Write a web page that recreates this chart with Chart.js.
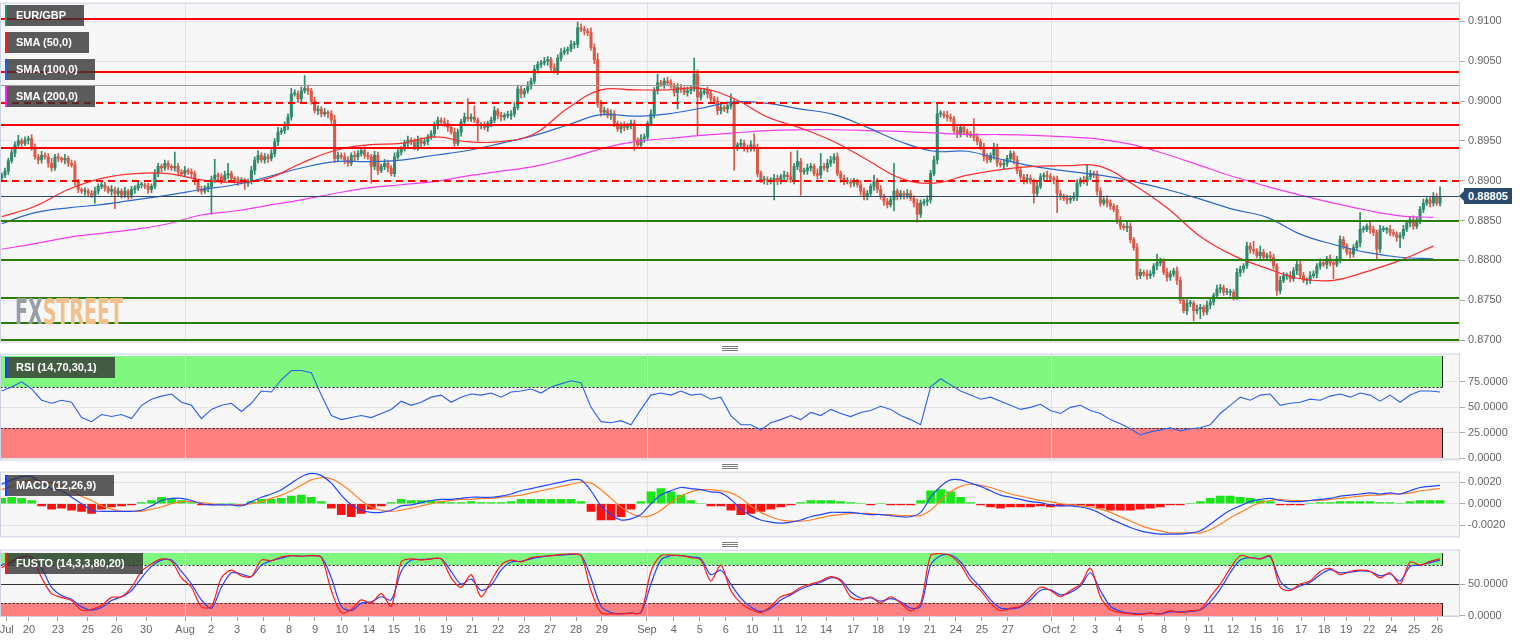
<!DOCTYPE html>
<html><head><meta charset="utf-8">
<script src="https://cdn.jsdelivr.net/npm/chart.js@4.4.1/dist/chart.umd.min.js"></script>
<style>
html,body{margin:0;padding:0;background:#fff;width:1531px;height:643px;overflow:hidden;position:relative;font-family:"Liberation Sans",Arial,sans-serif;}
canvas{position:absolute;}
.lbl{position:absolute;left:5px;height:21px;background:rgba(48,48,48,0.78);color:#fff;font:bold 11px "Liberation Sans",Arial,sans-serif;line-height:21px;padding-left:11px;box-sizing:border-box;white-space:nowrap;z-index:5;}
.lbl i{position:absolute;left:0;top:0;width:2px;height:100%;}
.hdl{position:absolute;left:722px;width:16px;height:1px;background:#7a7a7a;box-shadow:0 2px 0 #7a7a7a,0 4px 0 #7a7a7a;z-index:5;}
#ptag{position:absolute;left:1464px;width:48px;height:16px;background:#2b4a6c;color:#fff;font:bold 11px "Liberation Sans",Arial,sans-serif;line-height:16px;text-align:center;z-index:5;}
#ptag:before{content:'';position:absolute;left:-5px;top:3px;border-top:5px solid transparent;border-bottom:5px solid transparent;border-right:5px solid #2b4a6c;}
#wm{position:absolute;left:15px;top:294px;white-space:nowrap;font:bold 36px "Liberation Sans Narrow","DejaVu Sans Condensed",sans-serif;line-height:36px;transform-origin:0 0;z-index:4;}
</style></head>
<body>
<div id="wm"><span style="color:#979ca6">FX</span><span style="color:#f2c08c">STREET</span></div>
<div class="lbl" style="top:5px;width:79px"><i style="background:#2e8b6e"></i>EUR/GBP</div>
<div class="lbl" style="top:32px;width:84px"><i style="background:#ff1a1a"></i>SMA (50,0)</div>
<div class="lbl" style="top:59px;width:90px"><i style="background:#1f5fd6"></i>SMA (100,0)</div>
<div class="lbl" style="top:86px;width:90px"><i style="background:#ff22ff"></i>SMA (200,0)</div>
<div class="lbl" style="top:357px;width:110px"><i style="background:#1a3cff"></i>RSI (14,70,30,1)</div>
<div class="lbl" style="top:475px;width:109px"><i style="background:#1a3cff"></i>MACD (12,26,9)</div>
<div class="lbl" style="top:553px;width:138px"><i style="background:#ff1a1a"></i>FUSTO (14,3,3,80,20)</div>
<div class="hdl" style="top:346px"></div>
<div class="hdl" style="top:464px"></div>
<div class="hdl" style="top:542px"></div>
<div id="ptag"></div>
<script>
// ---------------- DATA ----------------
const firstOpen = 0.8903;
const closes = [
0.8907,0.8912,0.8925,0.8935,0.8945,0.8950,0.8947,0.8951,0.8953,0.8942,
0.8930,0.8926,0.8932,0.8930,0.8922,0.8916,0.8930,0.8928,0.8926,0.8928,
0.8922,0.8920,0.8899,0.8889,0.8887,0.8887,0.8884,0.8882,0.8887,0.8893,
0.8895,0.8891,0.8887,0.8889,0.8884,0.8887,0.8882,0.8887,0.8882,0.8889,
0.8891,0.8895,0.8895,0.8893,0.8889,0.8893,0.8909,0.8918,0.8916,0.8922,
0.8918,0.8916,0.8918,0.8911,0.8909,0.8913,0.8911,0.8909,0.8899,0.8889,
0.8887,0.8891,0.8893,0.8901,0.8907,0.8905,0.8901,0.8907,0.8909,0.8903,
0.8901,0.8899,0.8901,0.8897,0.8899,0.8913,0.8926,0.8932,0.8926,0.8930,
0.8928,0.8934,0.8949,0.8961,0.8963,0.8969,0.8980,0.9009,0.9009,0.9003,
0.9013,0.9016,0.9013,0.9000,0.8988,0.8990,0.8984,0.8986,0.8984,0.8976,
0.8928,0.8932,0.8930,0.8926,0.8922,0.8932,0.8930,0.8934,0.8938,0.8932,
0.8930,0.8918,0.8932,0.8913,0.8918,0.8922,0.8916,0.8909,0.8930,0.8936,
0.8940,0.8947,0.8951,0.8949,0.8942,0.8951,0.8947,0.8949,0.8955,0.8959,
0.8969,0.8976,0.8974,0.8972,0.8967,0.8961,0.8947,0.8961,0.8974,0.8980,
0.8978,0.8980,0.8976,0.8969,0.8969,0.8967,0.8972,0.8976,0.8988,0.8982,
0.8980,0.8982,0.8982,0.8984,0.8992,0.9015,0.9009,0.9013,0.9019,0.9025,
0.9040,0.9046,0.9048,0.9050,0.9052,0.9042,0.9038,0.9054,0.9061,0.9063,
0.9065,0.9071,0.9071,0.9092,0.9090,0.9088,0.9086,0.9067,0.9052,0.8996,
0.8986,0.8988,0.8982,0.8984,0.8972,0.8965,0.8969,0.8967,0.8969,0.8972,
0.8951,0.8945,0.8953,0.8955,0.8972,0.8984,0.9013,0.9023,0.9021,0.9025,
0.9023,0.9019,0.9011,0.9017,0.9015,0.9011,0.9013,0.9015,0.9034,0.9005,
0.9011,0.9013,0.9009,0.9003,0.9000,0.8988,0.8992,0.8990,0.8994,0.8998,
0.8942,0.8945,0.8947,0.8942,0.8940,0.8945,0.8942,0.8909,0.8901,0.8901,
0.8899,0.8901,0.8903,0.8899,0.8905,0.8907,0.8905,0.8901,0.8918,0.8924,
0.8911,0.8913,0.8916,0.8918,0.8909,0.8907,0.8918,0.8916,0.8922,0.8926,
0.8930,0.8909,0.8903,0.8899,0.8899,0.8897,0.8899,0.8895,0.8887,0.8880,
0.8884,0.8893,0.8899,0.8889,0.8880,0.8874,0.8870,0.8876,0.8887,0.8880,
0.8884,0.8882,0.8884,0.8878,0.8872,0.8858,0.8872,0.8874,0.8876,0.8909,
0.8926,0.8984,0.8984,0.8982,0.8980,0.8978,0.8963,0.8959,0.8967,0.8961,
0.8959,0.8957,0.8955,0.8949,0.8942,0.8930,0.8926,0.8932,0.8942,0.8922,
0.8920,0.8922,0.8928,0.8934,0.8926,0.8913,0.8905,0.8901,0.8903,0.8899,
0.8884,0.8893,0.8905,0.8907,0.8905,0.8903,0.8901,0.8884,0.8880,0.8878,
0.8876,0.8878,0.8880,0.8897,0.8901,0.8899,0.8905,0.8909,0.8907,0.8887,
0.8872,0.8876,0.8872,0.8868,0.8864,0.8851,0.8843,0.8841,0.8843,0.8826,
0.8816,0.8781,0.8785,0.8783,0.8781,0.8783,0.8793,0.8797,0.8799,0.8785,
0.8779,0.8783,0.8787,0.8775,0.8750,0.8737,0.8746,0.8746,0.8737,0.8739,
0.8741,0.8735,0.8744,0.8748,0.8756,0.8764,0.8766,0.8760,0.8760,0.8760,
0.8754,0.8785,0.8789,0.8793,0.8818,0.8814,0.8812,0.8806,0.8810,0.8804,
0.8806,0.8804,0.8793,0.8762,0.8775,0.8781,0.8781,0.8777,0.8787,0.8795,
0.8781,0.8775,0.8775,0.8781,0.8783,0.8793,0.8797,0.8795,0.8802,0.8797,
0.8795,0.8802,0.8826,0.8818,0.8810,0.8808,0.8816,0.8822,0.8839,0.8839,
0.8843,0.8839,0.8835,0.8814,0.8839,0.8839,0.8839,0.8835,0.8833,0.8829,
0.8831,0.8839,0.8847,0.8851,0.8843,0.8851,0.8864,0.8872,0.8876,0.8872,
0.8880,0.8872,0.88805];
// wick lengths above / below the body, in pips (0.0001)
const wickUp = [
3,4,3,5,4,7,3,4,3,5, 4,3,5,3,4,6,3,4,2,5, 3,4,5,3,2,4,3,4,5,3, 4,3,2,5,3,4,3,5,2,4,
3,4,3,2,4,3,5,4,3,4, 3,2,18,4,3,5,2,4,3,2, 4,3,4,5,20,3,4,5,13,3, 2,4,3,2,3,5,4,6,3,4,
3,5,4,6,3,5,4,7,5,4, 5,16,4,3,5,4,3,5,2,4, 6,4,3,5,4,3,5,4,3,5, 4,3,5,4,3,5,4,3,5,4,
3,4,5,3,4,5,3,4,3,4, 5,4,3,5,4,3,5,4,3,5, 23,4,14,3,4,5,3,4,5,3, 4,3,5,4,6,5,4,3,5,4,
5,4,3,5,4,3,5,4,5,4, 3,5,4,7,5,4,3,6,5,8, 5,4,3,5,4,3,4,5,3,4, 4,3,5,4,3,5,4,11,3,4,
5,4,3,5,4,3,5,4,20,5, 4,3,5,4,3,5,4,3,5,11, 4,3,5,4,3,5,14,4,3,5, 4,3,5,4,3,5,4,31,4,14,
4,3,5,4,3,6,16,4,5,5, 4,5,3,4,5,3,4,3,5,4, 4,3,8,4,5,3,4,4,35,3, 4,3,5,4,3,5,4,3,5,4,
5,12,4,3,5,4,3,5,4,3, 4,3,21,4,3,5,4,3,5,4, 3,5,4,4,3,5,4,3,5,4, 3,5,4,3,5,4,3,5,4,3,
4,3,5,4,3,5,15,4,3,5, 4,3,5,4,3,5,4,3,5,4, 3,5,4,3,5,4,3,11,4,3, 5,4,3,5,4,3,5,4,3,5,
4,3,5,4,3,5,4,3,5,4, 3,5,4,3,5,4,10,3,8,4, 3,5,4,3,5,4,3,5,4,4, 5,4,3,5,4,3,5,4,3,5,
4,3,5,4,3,5,4,3,21,4, 3,5,4,3,5,4,3,5,4,3, 4,5,3,4,5,3,4,5,3,4, 5,4,12];
const wickDn = [
4,3,4,3,5,3,4,3,5,4, 3,5,4,3,5,4,3,4,3,5, 4,3,5,4,3,5,4,3,10,4, 3,4,3,5,19,3,4,3,5,4,
5,3,4,3,5,4,3,4,5,3, 4,3,4,5,3,4,3,5,4,3, 4,3,5,35,3,4,5,3,4,3, 4,5,3,8,4,3,5,4,3,4,
5,3,4,5,3,4,5,4,3,5, 4,3,5,4,3,5,4,3,5,4, 5,4,3,5,4,3,5,4,3,4, 3,21,4,5,3,4,5,3,4,3,
4,3,5,4,3,4,5,3,4,3, 5,4,3,4,5,3,4,3,5,4, 3,4,3,19,4,3,5,4,3,4, 5,4,3,5,4,3,5,4,3,4,
3,5,4,3,5,4,3,5,4,3, 4,3,5,4,3,5,4,3,5,4, 5,4,3,5,4,3,5,4,3,4, 13,4,3,5,4,3,5,4,3,5,
4,3,5,21,4,3,5,4,3,48, 4,3,5,4,3,5,4,3,5,4, 29,4,3,5,4,3,5,4,3,5, 4,3,25,4,3,5,4,3,5,4,
29,3,5,4,3,5,4,3,5,4, 4,3,5,4,3,5,4,3,5,4, 4,3,5,4,3,5,4,3,14,4, 3,5,4,3,5,10,4,3,5,4,
3,5,4,3,5,4,3,5,4,3, 4,3,5,4,3,5,4,3,5,4, 3,5,4,3,5,4,3,5,4,3, 12,4,3,5,4,3,5,24,4,3,
5,4,3,5,4,3,5,4,3,5, 4,3,5,4,3,5,4,3,5,4, 3,5,4,3,5,4,3,5,4,3, 5,4,3,5,4,3,5,4,13,4,
12,4,3,5,4,3,5,4,3,5, 4,3,5,4,3,5,4,3,5,4, 3,5,4,6,4,3,5,4,3,5, 4,3,5,4,3,5,4,3,5,4,
18,3,5,4,3,5,4,3,5,4, 3,5,4,12,4,3,5,4,3,5, 13,4,3,5,4,3,5,4,3,5, 4,3,4];

// moving averages, one reading every SMA_STEP candles
const SMA_STEP = 10;
const sma50 = [
0.8855,0.8868,0.8889,0.8903,0.8909,0.8909,0.8901,0.8898,0.8903,0.8922,
0.8938,0.8945,0.8947,0.8955,0.8949,0.8949,0.8959,0.8991,0.9014,0.9014,
0.9014,0.9016,0.9003,0.8980,0.8966,0.8949,0.8926,0.8903,0.8897,0.8907,
0.8914,0.8918,0.8919,0.8918,0.8895,0.8866,0.8830,0.8806,0.8790,0.8777,
0.8775,0.8786,0.8800,0.8818];
const sma100 = [
0.8846,0.8860,0.8866,0.8870,0.8876,0.8882,0.8889,0.8895,0.8905,0.8916,
0.8924,0.8924,0.8926,0.8932,0.8938,0.8947,0.8957,0.8970,0.8983,0.8981,
0.8984,0.8991,0.8999,0.8997,0.8990,0.8983,0.8967,0.8949,0.8937,0.8937,
0.8927,0.8918,0.8912,0.8907,0.8899,0.8889,0.8877,0.8864,0.8854,0.8833,
0.8820,0.8810,0.8804,0.8802];
const sma200 = [
0.8814,0.8821,0.8829,0.8834,0.8839,0.8846,0.8857,0.8862,0.8869,0.8876,
0.8884,0.8891,0.8895,0.8899,0.8906,0.8912,0.8918,0.8928,0.8940,0.8949,
0.8953,0.8957,0.8960,0.8963,0.8964,0.8964,0.8963,0.8962,0.8960,0.8958,
0.8958,0.8957,0.8955,0.8952,0.8945,0.8933,0.8919,0.8905,0.8893,0.8882,
0.8872,0.8863,0.8856,0.8854];

// indicators, one reading every IND_STEP candles
const IND_STEP = 3;
const rsi = [
66,70,75,68,57,54,57,55,40,36, 43,41,43,39,52,58,61,63,55,52,
39,48,52,54,46,54,66,65,77,86, 86,84,62,42,38,40,42,40,44,48,
56,52,55,60,62,55,60,63,62,64, 60,65,66,68,64,70,73,76,74,50,
36,35,37,33,48,62,64,62,66,62, 63,58,60,42,33,33,28,35,38,42,
38,45,42,48,44,41,45,47,51,48, 42,38,33,70,78,72,66,62,58,60,
56,52,48,50,53,47,44,50,52,47, 44,38,34,29,23,26,28,30,27,29,
30,33,44,52,60,57,62,63,52,54, 55,58,57,61,63,60,64,62,56,62,
55,62,66,66,65];
const macd = [
.0018,.0022,.0025,.0025,.0019,.0014,.0012,.0006,.0000,-.0006,
-.0007,-.0007,-.0007,-.0007,-.0006,-.0002,.0003,.0005,.0005,.0003,
.0000,-.0001,-.0001,-.0001,-.0002,.0002,.0006,.0009,.0013,.0019,
.0025,.0028,.0026,.0019,.0008,-.0001,-.0006,-.0008,-.0008,-.0006,
-.0002,-.0001,.0001,.0003,.0004,.0004,.0005,.0006,.0006,.0006,
.0007,.0009,.0012,.0014,.0016,.0018,.0020,.0022,.0022,.0012,
-.0002,-.0010,-.0015,-.0014,-.0010,.0000,.0008,.0012,.0015,.0014,
.0013,.0011,.0010,.0004,-.0005,-.0011,-.0015,-.0017,-.0018,-.0017,
-.0015,-.0012,-.0010,-.0008,-.0008,-.0008,-.0009,-.0010,-.0010,-.0011,
-.0012,-.0012,-.0008,.0006,.0016,.0022,.0022,.0019,.0016,.0012,
.0008,.0006,.0004,.0002,.0001,-.0001,-.0002,-.0002,-.0003,-.0005,
-.0009,-.0014,-.0018,-.0022,-.0025,-.0027,-.0028,-.0028,-.0028,-.0027,
-.0025,-.0019,-.0012,-.0006,-.0002,.0002,.0004,.0005,.0003,.0002,
.0002,.0003,.0004,.0005,.0007,.0008,.0009,.0010,.0009,.0010,
.0009,.0012,.0015,.0016,.0017];
const macdSignal = [
.0013,.0016,.0020,.0022,.0021,.0019,.0016,.0012,.0007,.0003,
-.0002,-.0005,-.0007,-.0007,-.0007,-.0005,-.0003,.0000,.0002,.0002,
.0001,.0000,-.0001,-.0001,-.0001,.0000,.0002,.0005,.0008,.0012,
.0017,.0022,.0024,.0023,.0018,.0011,.0003,-.0003,-.0006,-.0007,
-.0006,-.0004,-.0002,.0000,.0002,.0003,.0004,.0004,.0005,.0005,
.0006,.0007,.0008,.0010,.0012,.0014,.0016,.0018,.0020,.0019,
.0013,.0005,-.0003,-.0009,-.0012,-.0011,-.0006,.0001,.0007,.0011,
.0013,.0013,.0012,.0010,.0005,-.0002,-.0008,-.0012,-.0015,-.0016,
-.0016,-.0015,-.0013,-.0011,-.0010,-.0009,-.0009,-.0009,-.0010,-.0010,
-.0011,-.0011,-.0011,-.0006,.0003,.0011,.0016,.0018,.0017,.0015,
.0012,.0009,.0007,.0005,.0003,.0002,.0000,-.0001,-.0002,-.0003,
-.0005,-.0008,-.0012,-.0016,-.0020,-.0023,-.0025,-.0027,-.0027,-.0027,
-.0027,-.0024,-.0019,-.0013,-.0008,-.0003,.0001,.0003,.0004,.0003,
.0003,.0003,.0003,.0004,.0005,.0006,.0007,.0008,.0008,.0009,
.0009,.0010,.0012,.0013,.0014];
const macdHist = [
.0005,.0006,.0005,.0003,-.0002,-.0005,-.0004,-.0006,-.0007,-.0009,
-.0005,-.0003,-.0002,-.0001,.0001,.0003,.0006,.0005,.0003,.0001,
-.0001,-.0001,.0000,.0000,-.0001,.0002,.0004,.0004,.0005,.0007,
.0008,.0006,.0002,-.0004,-.0010,-.0012,-.0009,-.0005,-.0002,.0001,
.0004,.0003,.0003,.0003,.0002,.0001,.0001,.0002,.0001,.0001,
.0001,.0002,.0004,.0004,.0004,.0004,.0004,.0004,.0002,-.0007,
-.0015,-.0015,-.0012,-.0005,.0002,.0011,.0014,.0011,.0008,.0003,
.0000,-.0002,-.0002,-.0006,-.0010,-.0009,-.0007,-.0005,-.0003,-.0001,
.0001,.0003,.0003,.0003,.0002,.0001,.0000,-.0001,.0000,-.0001,
-.0001,-.0001,.0003,.0012,.0013,.0011,.0006,.0001,-.0001,-.0003,
-.0004,-.0003,-.0003,-.0003,-.0002,-.0003,-.0002,-.0001,-.0001,-.0002,
-.0004,-.0006,-.0006,-.0006,-.0005,-.0004,-.0003,-.0001,-.0001,.0000,
.0002,.0005,.0007,.0007,.0006,.0005,.0003,.0002,-.0001,-.0001,
-.0001,.0000,.0001,.0001,.0002,.0002,.0002,.0002,.0001,.0001,
.0000,.0002,.0003,.0003,.0003];
const fustoK = [
76,86,94,92,60,35,29,24,9,10, 16,29,30,45,70,82,90,86,60,45,
14,15,60,72,63,62,88,87,93,95, 94,95,92,40,5,10,25,20,35,15,
85,90,88,90,90,60,45,65,30,55, 80,88,85,92,94,95,97,98,95,40,
5,3,3,4,5,70,95,96,95,92, 88,55,80,40,20,10,5,15,30,35,
45,50,55,62,55,30,25,30,20,30, 20,8,20,95,98,95,80,55,40,20,
8,12,15,30,45,40,30,40,50,75, 30,10,5,3,2,4,3,8,5,8,
10,30,50,75,95,92,90,95,45,40, 50,55,70,75,65,70,72,70,60,68,
50,85,80,86,90];
const fustoD = [
81,84,92,93,75,45,32,26,14,9, 13,24,30,40,60,78,88,88,70,50,
25,12,45,68,66,62,80,87,91,95, 94,95,93,60,15,8,20,22,30,25,
70,88,89,90,90,70,50,58,40,48, 72,85,86,90,93,95,96,97,96,60,
15,5,3,4,5,50,88,95,95,93, 90,65,72,50,28,14,7,12,25,33,
42,48,53,60,57,38,28,28,23,27, 22,12,15,80,95,96,85,62,45,25,
12,11,14,25,40,41,33,37,47,68, 40,15,7,4,3,4,3,6,6,7,
9,22,42,68,88,92,90,93,55,42, 47,53,65,73,68,69,71,70,63,66,
55,78,80,84,88];

// x-axis tick labels and the candle they sit under
const xTickLabels = ['Jul','20','23','25','26','30','Aug','2','3','6','8','9','10','14','15','16','19','21','22','23','27','28','29',
 'Sep','4','5','6','10','11','12','14','17','18','19','21','24','25','27',
 'Oct','2','3','4','5','8','9','11','12','15','16','17','18','19','22','24','25','26'];
const xTickIdx = [1.5,8.2,16.9,25.9,34.6,43.4,55.1,62.9,70.7,78.5,86.3,94.1,102.2,110.3,117.8,125.6,133.5,141.3,149.1,156.9,164.7,172.5,180.3,
 193.8,201.9,209.7,217.5,225.4,233.2,240.1,247.6,255.7,263.2,271.0,278.8,286.6,294.4,302.2,
 315.2,321.8,328.4,335.6,342.2,349.1,356.0,362.6,369.8,376.7,383.3,390.3,397.2,403.8,410.7,417.3,424.2,431.1];
const monthNames = ['Aug','Sep','Oct'];

const priceTicks = [0.8700,0.8750,0.8800,0.8850,0.8900,0.8950,0.9000,0.9050,0.9100];
const rsiTicks = [0,25,50,75];
const macdTicks = [-0.002,0,0.002];
const fustoTicks = [0,50];

const levelsRedSolid = [0.9103,0.9036,0.8970,0.8941];
const levelsRedDashed = [0.8998,0.8900];
const levelsGray = [0.9020];
const levelsGreen = [0.8850,0.8800,0.8753,0.8722,0.8700];

// ---------------- BUILD ----------------
const FONT = '"Liberation Sans", Arial, sans-serif';
const PIP = 0.0001;
const BULL = '#2f8a6c', BEAR = '#d85a49';
const N = closes.length;
const X_MAX = 438;
const opens = closes.map((c,i)=> i ? closes[i-1] : firstOpen);
const highs = closes.map((c,i)=> Math.max(opens[i],c) + wickUp[i]*PIP);
const lows  = closes.map((c,i)=> Math.min(opens[i],c) - wickDn[i]*PIP);
const cColor = closes.map((c,i)=> c >= opens[i] ? BULL : BEAR);
const monthIdx = xTickIdx.filter((v,i)=> monthNames.includes(xTickLabels[i]));

function xAxis(show){
  return { type:'linear', min:-0.5, max:X_MAX, display:show, offset:false,
    afterBuildTicks(s){ s.ticks = xTickIdx.map(v=>({value:v})); },
    afterFit(s){ if (show) s.height = 26; },
    grid:{ display:true, offset:false, drawOnChartArea:false, drawTicks:true, tickLength:4, tickColor:'#a0a0a0', color:'#a0a0a0' },
    border:{ display:false },
    ticks:{ autoSkip:false, maxRotation:0, minRotation:0, padding:2, color:'#666', font:{family:FONT,size:11},
      callback:(v,i)=> xTickLabels[i] }
  };
}
function yAxis(min,max,ticks){
  return { type:'linear', position:'right', min, max,
    afterBuildTicks(s){ s.ticks = ticks.map(v=>({value:v})); },
    afterFit(s){ s.width = 71; },
    grid:{ color:'#e4e4e4', drawTicks:true, tickLength:5, tickColor:'#a8a8a8' },
    border:{ display:false },
    ticks:{ autoSkip:false, padding:3, color:'#666', font:{family:FONT,size:11}, callback:v=> Number(v).toFixed(4) }
  };
}
function hline(ctx, a, py, color, w, dash){
  ctx.save(); ctx.beginPath(); ctx.strokeStyle=color; ctx.lineWidth=w; ctx.setLineDash(dash||[]);
  const yy = w%2 ? Math.round(py)+0.5 : Math.round(py);
  ctx.moveTo(a.left, yy); ctx.lineTo(a.right, yy); ctx.stroke(); ctx.restore();
}
function panelPlugin(cfg){
  return {
    id:'panel_'+cfg.name,
    beforeDraw(chart){
      const {ctx, chartArea:a} = chart;
      ctx.save(); ctx.fillStyle='#f7f7f7'; ctx.fillRect(a.left,a.top,a.right-a.left,a.bottom-a.top); ctx.restore();
    },
    beforeDatasetsDraw(chart){
      const {ctx, chartArea:a, scales:{x,y}} = chart;
      ctx.save();
      (cfg.bands||[]).forEach(b=>{
        const x0=a.left+0.5, x1=Math.round(x.getPixelForValue(N-0.5))+0.5;
        const yT=Math.round(y.getPixelForValue(b.to)), yB=Math.round(y.getPixelForValue(b.from));
        ctx.fillStyle=b.color; ctx.fillRect(x0,yT,x1-x0,yB-yT);
        ctx.strokeStyle='#222'; ctx.lineWidth=1; ctx.setLineDash([]);
        ctx.beginPath(); ctx.moveTo(x0,yT); ctx.lineTo(x0,yB); ctx.moveTo(x1,yT); ctx.lineTo(x1,yB); ctx.stroke();
        const ye=Math.round(y.getPixelForValue(b.edge))+0.5;
        ctx.setLineDash([2,2]); ctx.beginPath(); ctx.moveTo(x0,ye); ctx.lineTo(x1,ye); ctx.stroke();
      });
      ctx.setLineDash([]); ctx.strokeStyle='#e2e2e2'; ctx.lineWidth=1;
      monthIdx.forEach(v=>{ const px=Math.round(x.getPixelForValue(v))+0.5; ctx.beginPath(); ctx.moveTo(px,a.top); ctx.lineTo(px,a.bottom); ctx.stroke(); });
      (cfg.midLines||[]).forEach(v=> hline(ctx,a,y.getPixelForValue(v),'#333',1));
      ctx.restore();
    },
    afterDatasetsDraw(chart){
      const {ctx, chartArea:a, scales:{y}} = chart;
      if (cfg.levels){
        levelsGray.forEach(v=> hline(ctx,a,y.getPixelForValue(v),'#9a9a9a',1));
        levelsRedSolid.forEach(v=> hline(ctx,a,y.getPixelForValue(v),'#ff0000',2));
        levelsRedDashed.forEach(v=> hline(ctx,a,y.getPixelForValue(v),'#ff0000',2,[7,5]));
        levelsGreen.forEach(v=> hline(ctx,a,y.getPixelForValue(v),'#2a7d06',2));
        hline(ctx,a,y.getPixelForValue(closes[N-1]),'#2b4a6c',1);
      }
    },
    afterDraw(chart){
      const {ctx, chartArea:a, scales:{y}} = chart;
      ctx.save(); ctx.strokeStyle='#cbd3e4'; ctx.lineWidth=1;
      ctx.strokeRect(a.left+0.5,a.top+0.5,a.right-a.left-1,a.bottom-a.top-1); ctx.restore();
      if (cfg.levels){
        const tag=document.getElementById('ptag');
        tag.textContent = closes[N-1].toFixed(5);
        tag.style.top = (y.getPixelForValue(closes[N-1]) + cfg.top - 8) + 'px';
      }
    }
  };
}
function panel(cfg){
  const cv=document.createElement('canvas');
  cv.width=1541; cv.height=cfg.h;
  cv.style.left='-10px'; cv.style.top=cfg.top+'px'; cv.style.width='1541px'; cv.style.height=cfg.h+'px';
  document.body.appendChild(cv);
  return new Chart(cv.getContext('2d'), {
    type:'bar',
    data:{ datasets: cfg.datasets },
    options:{
      responsive:false, animation:false, devicePixelRatio:1, events:[],
      layout:{ padding:{ left:10, right:0, top:8, bottom:cfg.padBottom } },
      plugins:{ legend:{display:false}, tooltip:{enabled:false} },
      scales:{ x: xAxis(!!cfg.showX), y: yAxis(cfg.yMin, cfg.yMax, cfg.yTicks) }
    },
    plugins:[ panelPlugin(cfg) ]
  });
}
const lineDs = (arr, step, color, w, order, tension) => ({
  type:'line', data: arr.map((v,k)=>({x:k*step, y:v})), borderColor:color, borderWidth:w,
  pointRadius:0, tension:tension, order:order, fill:false
});

// main price panel
panel({ name:'main', top:-7, h:359, padBottom:8, yMin:0.86971, yMax:0.91236, yTicks:priceTicks, levels:true,
  datasets:[
    lineDs(sma50, SMA_STEP, '#ff2b2b', 1.2, 0, 0.4),
    lineDs(sma100, SMA_STEP, '#2b68c9', 1.2, 0, 0.4),
    lineDs(sma200, SMA_STEP, '#f23cf2', 1.2, 0, 0.4),
    { type:'bar', order:1, grouped:false, barThickness:2.4, minBarLength:1,
      data: closes.map((c,i)=>({x:i, y:[opens[i], c]})), backgroundColor:cColor },
    { type:'bar', order:2, grouped:false, barThickness:1,
      data: closes.map((c,i)=>({x:i, y:[lows[i], highs[i]]})), backgroundColor:cColor }
  ]});

// RSI
panel({ name:'rsi', top:344, h:126, padBottom:8, yMin:-1.9, yMax:102.6, yTicks:rsiTicks,
  bands:[ {from:70,to:100,edge:70,color:'#80f880'}, {from:0,to:30,edge:30,color:'#ff8080'} ],
  datasets:[ lineDs(rsi, IND_STEP, '#2d5fe8', 1.1, 0, 0) ]});

// MACD
panel({ name:'macd', top:462, h:85, padBottom:8, yMin:-0.00311, yMax:0.00297, yTicks:macdTicks,
  datasets:[
    lineDs(macd, IND_STEP, '#2244ff', 1.2, 0, 0.3),
    lineDs(macdSignal, IND_STEP, '#ff7f27', 1.2, 1, 0.3),
    { type:'bar', order:2, grouped:false, barThickness:8,
      data: macdHist.map((v,k)=>({x:k*IND_STEP, y:v})),
      backgroundColor: macdHist.map(v=> v>=0 ? '#19e619' : '#ff1010') }
  ]});

// FUSTO
panel({ name:'fusto', top:540, h:103, padBottom:0, showX:true, yMin:-2.0, yMax:104.6, yTicks:fustoTicks,
  bands:[ {from:80,to:100,edge:80,color:'#80f880'}, {from:0,to:20,edge:20,color:'#ff8080'} ],
  midLines:[50],
  datasets:[
    lineDs(fustoK, IND_STEP, '#ff1a1a', 1.2, 0, 0.3),
    lineDs(fustoD, IND_STEP, '#2244ff', 1.2, 1, 0.3)
  ]});

// watermark width fit
const wm=document.getElementById('wm');
const sx = 108 / wm.offsetWidth;
wm.style.transform = 'scaleX(' + sx.toFixed(3) + ')';
</script>
</body></html>
